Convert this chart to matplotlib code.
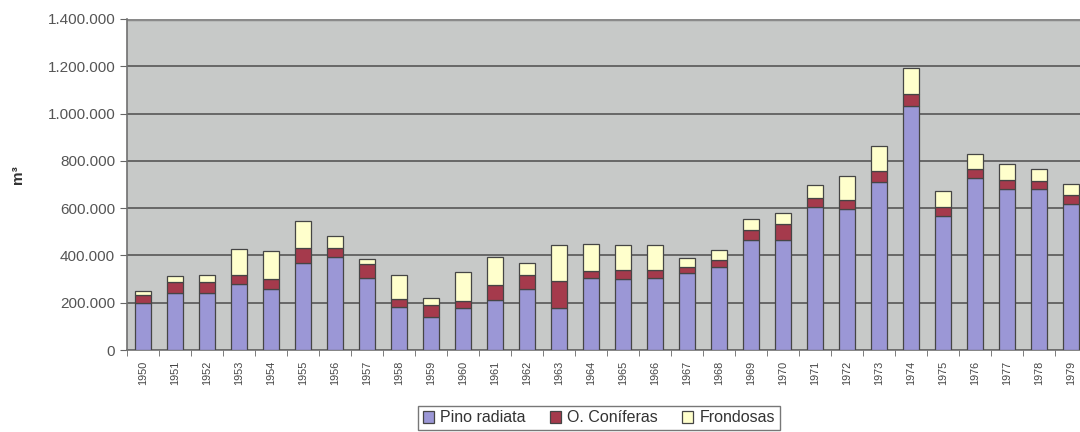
import matplotlib

matplotlib.use("Agg")
import matplotlib.pyplot as plt
import numpy as np
from matplotlib.ticker import FuncFormatter, MultipleLocator

plt.rcParams["font.family"] = ["Liberation Sans", "DejaVu Sans"]

# Cortas anuales por especie (m3)
years = list(range(1950, 1980))
pino_radiata = [197000, 242000, 243000, 278000, 260000, 370000, 393000, 306000, 180000, 141000,
                176000, 211000, 260000, 176000, 306000, 301000, 306000, 326000, 351000, 467000,
                464000, 605000, 598000, 710000, 1034000, 565000, 729000, 682000, 682000, 619000]
otras_coniferas = [35000, 45000, 45000, 40000, 40000, 63000, 40000, 56000, 35000, 49000,
                   30000, 63000, 56000, 116000, 28000, 39000, 34000, 23000, 28000, 39000,
                   70000, 38000, 38000, 47000, 49000, 40000, 35000, 35000, 32000, 35000]
frondosas = [18000, 24000, 31000, 109000, 120000, 113000, 49000, 22000, 103000, 32000,
             122000, 120000, 50000, 151000, 116000, 103000, 103000, 42000, 42000, 50000,
             47000, 53000, 98000, 104000, 110000, 67000, 66000, 71000, 52000, 49000]
series_names = ["Pino radiata", "O. Coníferas", "Frondosas"]
series_colors = ["#9b97d6", "#a53a4c", "#ffffcc"]

fig = plt.figure(figsize=(10.8, 4.32), dpi=100)
# plot area runs a little past the right edge of the figure
ax = fig.add_axes([127 / 1080, 82 / 432, 960 / 1080, 331 / 432])
ax.set_facecolor("#c7c9c8")

x = np.arange(len(years))
bottom = np.zeros(len(years))
handles = []
for vals, name, col in zip([pino_radiata, otras_coniferas, frondosas], series_names, series_colors):
    b = ax.bar(x, vals, width=0.5, bottom=bottom, color=col, edgecolor="#454545",
               linewidth=0.9, label=name, zorder=3)
    handles.append(b)
    bottom += np.array(vals)

ax.set_xlim(-0.5, len(years) - 0.5)
ax.set_ylim(0, 1400000)
ax.yaxis.set_major_locator(MultipleLocator(200000))
ax.yaxis.set_major_formatter(FuncFormatter(lambda v, p: f"{v:,.0f}".replace(",", ".")))
ax.grid(axis="y", color="#5f5f5f", linewidth=1.3, zorder=1)

ax.set_xticks(x)
ax.set_xticklabels([str(y) for y in years], rotation=90, fontsize=7.8, color="#444444")
ax.set_xticks(np.arange(-0.5, len(years)), minor=True)
ax.tick_params(axis="x", which="major", length=0, pad=8)
ax.tick_params(axis="x", which="minor", length=4, color="#666666")
ax.tick_params(axis="y", labelsize=11, labelcolor="#555555", length=5, color="#666666")

for side in ["top", "right"]:
    ax.spines[side].set_visible(False)
ax.spines["left"].set_color("#707070")
ax.spines["bottom"].set_color("#707070")
ax.spines["left"].set_linewidth(1.2)
ax.spines["bottom"].set_linewidth(1.2)
ax.axhline(1400000, color="#8a8a8a", linewidth=2.5, zorder=2)

fig.text(18 / 1080, 1 - 175 / 432, "m³", rotation=90, ha="center", va="center",
         fontsize=11, fontweight="bold", color="#333333")

leg = fig.legend(handles=handles, labels=series_names, loc="center", ncol=3,
                 bbox_to_anchor=(599 / 1080, 14 / 432), fontsize=11.5, frameon=True,
                 fancybox=False, edgecolor="#555555", handlelength=0.7, handleheight=0.7,
                 handletextpad=0.4, columnspacing=1.5, borderpad=0.3)
for t in leg.get_texts():
    t.set_color("#333333")

fig.savefig("out.png", dpi=100)
